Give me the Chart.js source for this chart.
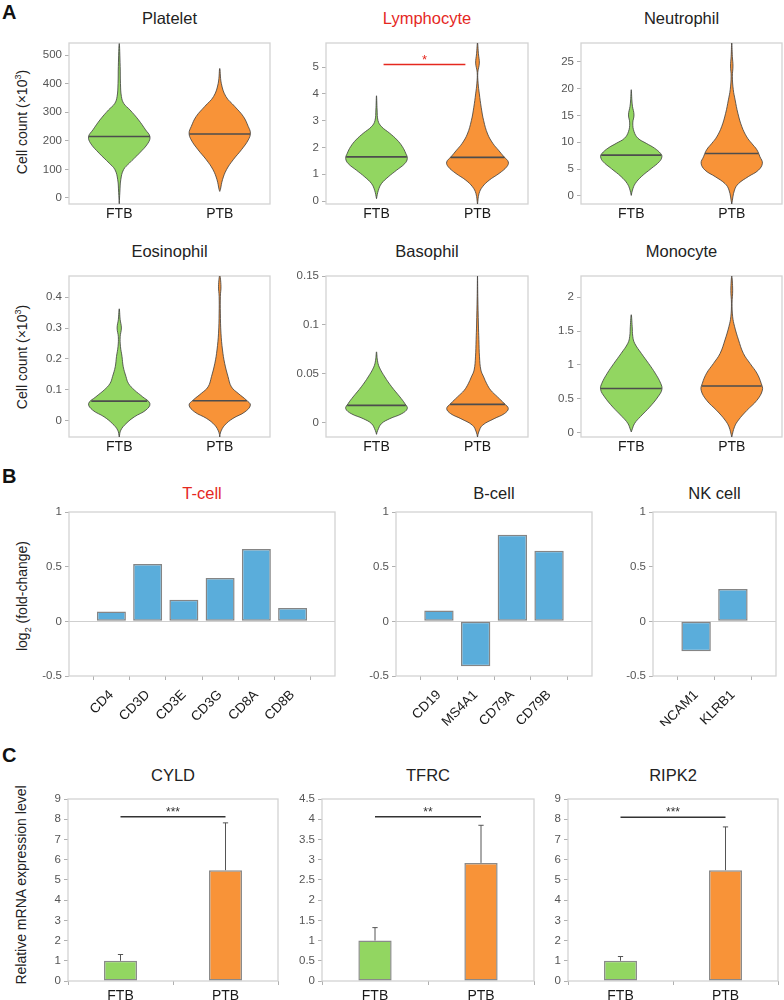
<!DOCTYPE html>
<html><head><meta charset="utf-8">
<script src="https://cdn.jsdelivr.net/npm/chart.js@4.4.0/dist/chart.umd.min.js"></script>
<style>
body{margin:0;background:#fff;width:784px;height:1000px;position:relative;overflow:hidden;font-family:"Liberation Sans",Arial,Helvetica,sans-serif;}
canvas{position:absolute;}
.t{position:absolute;transform:translate(-50%,-50%);white-space:nowrap;font-size:16.5px;color:#222;}
.red{color:#e5281f;}
.L{position:absolute;left:2px;font-weight:bold;font-size:20px;line-height:1;color:#111;}
.yt{position:absolute;transform:translate(-50%,-50%) rotate(-90deg);white-space:nowrap;font-size:14px;color:#222;}
.yt sup,.yt sub{font-size:9px;line-height:0;}
</style></head><body>
<div class="L" style="top:2px">A</div>
<div class="L" style="top:466px">B</div>
<div class="L" style="top:745px">C</div>

<div class="yt" style="left:22px;top:122px">Cell count (×10<sup>3</sup>)</div>
<div class="yt" style="left:22px;top:357px">Cell count (×10<sup>3</sup>)</div>
<div class="yt" style="left:22px;top:596px">log<sub>2</sub> (fold-change)</div>
<div class="yt" style="left:21px;top:885px">Relative mRNA expression level</div>

<script>
// ---------------- DATA ----------------
const groups = ['FTB', 'PTB'];
const violinTitles = ['Platelet', 'Lymphocyte', 'Neutrophil', 'Eosinophil', 'Basophil', 'Monocyte'];

// violin density profiles: [value, relative density]
const plateletFTB = [[-20,0],[20,0.02],[64,0.05],[99,0.14],[122,0.33],[157,0.66],[192,0.94],[215,1],[238,0.86],[273,0.63],[308,0.35],[330,0.15],[355,0.07],[400,0.04],[460,0.03],[540,0]];
const plateletPTB = [[23,0],[29,0.02],[64,0.09],[99,0.22],[134,0.44],[169,0.71],[203,0.93],[227,1],[250,0.93],[285,0.77],[320,0.49],[355,0.2],[401,0.05],[453,0]];
const lymphFTB = [[0.09,0],[0.4,0.06],[0.65,0.16],[0.9,0.38],[1.15,0.65],[1.4,0.92],[1.59,1],[1.78,0.95],[2.03,0.84],[2.28,0.67],[2.53,0.43],[2.78,0.16],[3.0,0.05],[3.4,0.02],[3.93,0]];
const lymphPTB = [[-0.12,0],[0.28,0.05],[0.53,0.16],[0.78,0.38],[1.03,0.7],[1.28,0.95],[1.46,1],[1.65,0.86],[1.9,0.68],[2.15,0.5],[2.5,0.33],[3.0,0.2],[3.5,0.12],[4.0,0.06],[4.4,0.02],[4.8,0.01],[5.15,0.06],[5.5,0.03],[5.9,0]];
const neutroFTB = [[0.1,0],[1.1,0.04],[2.3,0.13],[3.6,0.33],[5.1,0.65],[6.4,0.92],[7.3,1],[7.9,0.96],[8.9,0.76],[9.8,0.49],[10.75,0.22],[12,0.09],[13.6,0.05],[15.1,0.09],[16.7,0.04],[17.9,0.02],[19.8,0]];
const neutroPTB = [[-1.5,0],[1.1,0.09],[2.3,0.22],[3.6,0.54],[4.8,0.87],[6.1,1],[7.3,0.92],[8.6,0.82],[9.8,0.65],[11,0.49],[12.9,0.33],[15.4,0.2],[17.9,0.11],[19.8,0.05],[22.3,0.02],[24.2,0.04],[26,0.02],[28.6,0]];
const eosFTB = [[-0.052,0],[-0.03,0.05],[-0.009,0.22],[0.013,0.49],[0.035,0.87],[0.056,1],[0.078,0.76],[0.1,0.49],[0.121,0.3],[0.143,0.22],[0.175,0.13],[0.208,0.09],[0.24,0.04],[0.272,0.03],[0.3,0.07],[0.327,0.03],[0.362,0]];
const eosPTB = [[-0.052,0],[-0.036,0.03],[-0.014,0.16],[0.008,0.43],[0.029,0.82],[0.051,1],[0.067,0.87],[0.089,0.6],[0.11,0.38],[0.143,0.27],[0.186,0.16],[0.229,0.09],[0.283,0.04],[0.348,0.02],[0.402,0.02],[0.435,0.04],[0.47,0]];
const basoFTB = [[-0.0116,0],[-0.0075,0.04],[-0.0007,0.16],[0.0044,0.43],[0.0095,0.82],[0.0147,1],[0.0198,0.92],[0.0266,0.76],[0.037,0.49],[0.047,0.27],[0.057,0.09],[0.064,0.03],[0.0726,0]];
const basoPTB = [[-0.0143,0],[-0.0092,0.04],[-0.0024,0.16],[0.0044,0.54],[0.0095,0.87],[0.0147,1],[0.0198,0.87],[0.0266,0.65],[0.0334,0.43],[0.04,0.3],[0.047,0.2],[0.054,0.11],[0.0675,0.065],[0.085,0.045],[0.1,0.03],[0.129,0.01],[0.15,0]];
const monoFTB = [[0.015,0],[0.04,0.02],[0.14,0.11],[0.24,0.3],[0.38,0.6],[0.53,0.87],[0.64,1],[0.73,0.96],[0.88,0.78],[1.02,0.57],[1.17,0.33],[1.32,0.11],[1.42,0.05],[1.57,0.03],[1.74,0]];
const monoPTB = [[-0.06,0],[0.09,0.09],[0.19,0.22],[0.33,0.49],[0.48,0.82],[0.63,1],[0.73,0.96],[0.88,0.82],[1.02,0.6],[1.17,0.38],[1.37,0.22],[1.57,0.09],[1.71,0.03],[1.91,0.01],[2.1,0.03],[2.31,0]];

// medians [FTB, PTB]
const plateletMed = [215, 224];
const lymphMed = [1.65, 1.63];
const neutroMed = [7.6, 7.9];
const eosMed = [0.064, 0.065];
const basoMed = [0.018, 0.019];
const monoMed = [0.655, 0.69];

// y ranges and ticks of the violin panels
const plateletRange = [-21, 542];   const plateletTicks = [0, 100, 200, 300, 400, 500];
const lymphRange = [-0.11, 5.9];    const lymphTicks = [0, 1, 2, 3, 4, 5];
const neutroRange = [-1.5, 28.5];   const neutroTicks = [0, 5, 10, 15, 20, 25];
const eosRange = [-0.052, 0.468];   const eosTicks = [0, 0.1, 0.2, 0.3, 0.4];
const basoRange = [-0.0143, 0.15];  const basoTicks = [0, 0.05, 0.1, 0.15];
const monoRange = [-0.06, 2.31];    const monoTicks = [0, 0.5, 1, 1.5, 2];
const lymphSig = [1.14, 2.76, 5.1];  // x from, x to, y

// panel B
const tcellGenes = ['CD4', 'CD3D', 'CD3E', 'CD3G', 'CD8A', 'CD8B'];
const tcellFC = [0.091, 0.524, 0.198, 0.396, 0.662, 0.122];
const bcellGenes = ['CD19', 'MS4A1', 'CD79A', 'CD79B'];
const bcellFC = [0.098, -0.41, 0.793, 0.646];
const nkGenes = ['NCAM1', 'KLRB1'];
const nkFC = [-0.274, 0.296];
const fcTicks = [-0.5, 0, 0.5, 1];

// panel C: mean, SD (upper), significance bar height
const cyldMean = [1.0, 5.48];  const cyldSD = [0.31, 2.34];  const cyldSig = 8.12;
const tfrcMean = [1.0, 2.92];  const tfrcSD = [0.32, 0.93];  const tfrcSig = 4.06;
const ripk2Mean = [1.0, 5.48]; const ripk2SD = [0.21, 2.14]; const ripk2Sig = 8.1;
const cyldTicks = [0,1,2,3,4,5,6,7,8,9];
const tfrcTicks = [0,0.5,1,1.5,2,2.5,3,3.5,4,4.5];
const ripk2Ticks = [0,1,2,3,4,5,6,7,8,9];

// ---------------- STYLE ----------------
const FONT = '"Liberation Sans", Arial, Helvetica, sans-serif';
const GREEN = '#92d661', ORANGE = '#f89338', BLUE = '#5aaddb';
const VW = 0.61; // max half width of a violin, x units
Chart.defaults.font.family = FONT;
Chart.defaults.animation = false;
Chart.defaults.events = [];
Chart.defaults.plugins.legend.display = false;
Chart.defaults.plugins.tooltip.enabled = false;

const framePlugin = {
  id: 'frame',
  beforeDatasetsDraw(chart) {
    const a = chart.chartArea, ctx = chart.ctx;
    ctx.save();
    ctx.strokeStyle = '#d3d3d3'; ctx.lineWidth = 1.3;
    ctx.strokeRect(a.left, a.top, a.right - a.left, a.bottom - a.top);
    ctx.restore();
  }
};
const sigPlugin = {
  id: 'sig',
  afterDatasetsDraw(chart, args, o) {
    if (!o || !o.text) return;
    const ctx = chart.ctx;
    const x = chart.scales.x.getPixelForValue(o.x), y = chart.scales.y.getPixelForValue(o.y);
    ctx.save();
    ctx.fillStyle = o.color; ctx.font = o.size + 'px ' + FONT;
    ctx.textAlign = 'center'; ctx.textBaseline = 'alphabetic';
    ctx.fillText(o.text, x, y - o.dy);
    ctx.restore();
  }
};

function addTitle(text, x, y, red) {
  const d = document.createElement('div');
  d.className = 't' + (red ? ' red' : '');
  d.style.left = x + 'px'; d.style.top = y + 'px';
  d.textContent = text;
  document.body.appendChild(d);
}

function yScale(range, ticks, zeroLine, YW) {
  return {
    type: 'linear', min: range[0], max: range[1],
    afterFit: s => { s.width = YW; },
    afterBuildTicks: s => { s.ticks = ticks.map(v => ({ value: v })); },
    border: { display: false },
    grid: {
      drawOnChartArea: !!zeroLine,
      color: c => (zeroLine && c.tick && c.tick.value === 0) ? '#cfcfcf' : 'rgba(0,0,0,0)',
      tickColor: '#b0b0b0', tickLength: 4, lineWidth: 1
    },
    ticks: { font: { family: FONT, size: 11.5 }, color: '#555', padding: 3, callback: v => String(+(+v).toFixed(4)) }
  };
}
function xScale(range, ticks, labels, xh, o) {
  return {
    type: 'linear', min: range[0], max: range[1], offset: false,
    afterFit: s => { s.height = xh; },
    afterBuildTicks: s => { s.ticks = ticks.map(v => ({ value: v })); },
    border: { display: false },
    grid: { drawOnChartArea: false, drawTicks: o.marks, tickLength: 4, tickColor: '#b0b0b0' },
    ticks: { autoSkip: false, maxRotation: o.rot, minRotation: o.rot, font: { family: FONT, size: o.size }, color: '#1a1a1a', padding: o.pad,
      callback: (v, i) => labels[i] }
  };
}

function makeChart(box, xh, config) {
  const PT = 10, PR = 8, YW = 44;
  const cv = document.createElement('canvas');
  const w = box[1] - box[0] + YW + PR, h = box[3] - box[2] + PT + xh;
  cv.width = w; cv.height = h;
  cv.style.left = (box[0] - YW) + 'px'; cv.style.top = (box[2] - PT) + 'px';
  cv.style.width = w + 'px'; cv.style.height = h + 'px';
  document.body.appendChild(cv);
  config.options.layout = { padding: { top: PT, right: PR, left: 0, bottom: 0 } };
  config.options.responsive = false;
  config.options.devicePixelRatio = 1;
  config.options.scales.y = config.yFn(YW);
  delete config.yFn;
  config.plugins = [framePlugin, sigPlugin];
  return new Chart(cv, config);
}

// ---------- violins ----------
function densityAt(profile, v) {
  for (let i = 1; i < profile.length; i++) {
    const [y0, d0] = profile[i - 1], [y1, d1] = profile[i];
    if (v >= y0 && v <= y1) return d0 + (d1 - d0) * (v - y0) / (y1 - y0);
  }
  return 0;
}
function violinPoints(profile, c) {
  const right = profile.map(([y, d]) => ({ x: c + d * VW, y }));
  const left = profile.slice().reverse().map(([y, d]) => ({ x: c - d * VW, y }));
  return right.concat(left.slice(1));
}
function violinChart(box, title, red, profiles, meds, range, ticks, sig) {
  const centers = [1, 3], colors = [GREEN, ORANGE];
  const ds = [];
  profiles.forEach((p, i) => ds.push({
    data: violinPoints(p, centers[i]), fill: 'shape', backgroundColor: colors[i],
    borderColor: '#3c3c3c', borderWidth: 0.8, pointRadius: 0, tension: 0.4, order: 3
  }));
  profiles.forEach((p, i) => {
    const hw = densityAt(p, meds[i]) * VW;
    ds.push({ data: [{ x: centers[i] - hw, y: meds[i] }, { x: centers[i] + hw, y: meds[i] }],
      borderColor: '#4d4d4d', borderWidth: 1.6, pointRadius: 0, fill: false, order: 1 });
  });
  const sigOpt = {};
  if (sig) {
    ds.push({ data: [{ x: sig[0], y: sig[2] }, { x: sig[1], y: sig[2] }], borderColor: '#e5281f',
      borderWidth: 1.5, pointRadius: 0, fill: false, order: 1 });
    Object.assign(sigOpt, { text: '*', x: (sig[0] + sig[1]) / 2, y: sig[2], dy: 0, size: 13, color: '#e5281f' });
  }
  addTitle(title, (box[0] + box[1]) / 2, box[2] - 25, red);
  makeChart(box, 28, {
    type: 'line',
    data: { datasets: ds },
    yFn: YW => yScale(range, ticks, false, YW),
    options: {
      scales: { x: xScale([0, 4], [1, 3], groups, 28, { marks: false, rot: 0, size: 14, pad: 2 }) },
      plugins: { sig: sigOpt }
    }
  });
}

const row1 = [43, 204], row2 = [276, 437];
const colsA = [[69, 270], [326, 528], [581, 782]];
violinChart([...colsA[0], ...row1], violinTitles[0], false, [plateletFTB, plateletPTB], plateletMed, plateletRange, plateletTicks);
violinChart([...colsA[1], ...row1], violinTitles[1], true, [lymphFTB, lymphPTB], lymphMed, lymphRange, lymphTicks, lymphSig);
violinChart([...colsA[2], ...row1], violinTitles[2], false, [neutroFTB, neutroPTB], neutroMed, neutroRange, neutroTicks);
violinChart([...colsA[0], ...row2], violinTitles[3], false, [eosFTB, eosPTB], eosMed, eosRange, eosTicks);
violinChart([...colsA[1], ...row2], violinTitles[4], false, [basoFTB, basoPTB], basoMed, basoRange, basoTicks);
violinChart([...colsA[2], ...row2], violinTitles[5], false, [monoFTB, monoPTB], monoMed, monoRange, monoTicks);

// ---------- panel B ----------
function fcChart(box, title, red, genes, values) {
  const idx = genes.map((g, i) => i);
  addTitle(title, (box[0] + box[1]) / 2, 493, red);
  makeChart(box, 50, {
    type: 'bar',
    data: { datasets: [{ data: values.map((v, i) => ({ x: idx[i], y: v })), backgroundColor: BLUE,
      borderColor: '#858585', borderWidth: 1.5, barPercentage: 0.8, categoryPercentage: 1, borderSkipped: false }] },
    yFn: YW => yScale([-0.5, 1], fcTicks, true, YW),
    options: {
      scales: { x: xScale([-1.17, genes.length - 1 + 1.17], idx, genes, 50, { marks: true, rot: 45, size: 13.5, pad: 7 }) },
      plugins: { sig: {} }
    }
  });
}
const rowB = [512, 676];
fcChart([69, 335, ...rowB], 'T-cell', true, tcellGenes, tcellFC);
fcChart([396, 592, ...rowB], 'B-cell', false, bcellGenes, bcellFC);
fcChart([653, 776, ...rowB], 'NK cell', false, nkGenes, nkFC);

// ---------- panel C ----------
function qpcrChart(box, title, mean, sd, sig, ticks, stars) {
  const xs = [1, 3];
  const top = ticks[ticks.length - 1];
  const ds = [{
    type: 'bar', data: mean.map((v, i) => ({ x: xs[i], y: v })), backgroundColor: [GREEN, ORANGE],
    borderColor: '#8a8a8a', borderWidth: 1.5, barPercentage: 0.314, categoryPercentage: 1, borderSkipped: false, order: 2
  }];
  mean.forEach((v, i) => {
    ds.push({ type: 'line', data: [{ x: xs[i], y: v }, { x: xs[i], y: v + sd[i] }], borderColor: '#555', borderWidth: 1, pointRadius: 0, fill: false, order: 1 });
    ds.push({ type: 'line', data: [{ x: xs[i] - 0.05, y: v + sd[i] }, { x: xs[i] + 0.05, y: v + sd[i] }], borderColor: '#555', borderWidth: 1, pointRadius: 0, fill: false, order: 1 });
  });
  ds.push({ type: 'line', data: [{ x: xs[0], y: sig }, { x: xs[1], y: sig }], borderColor: '#333', borderWidth: 1.5, pointRadius: 0, fill: false, order: 1 });
  addTitle(title, (box[0] + box[1]) / 2, 775, false);
  makeChart(box, 24, {
    type: 'bar',
    data: { datasets: ds },
    yFn: YW => yScale([0, top], ticks, false, YW),
    options: {
      scales: { x: xScale([0, 4], xs, groups, 24, { marks: true, rot: 0, size: 14, pad: 3 }) },
      plugins: { sig: { text: stars, x: 2, y: sig, dy: 1, size: 12, color: '#333' } }
    }
  });
}
const rowC = [799, 981];
qpcrChart([68, 278, ...rowC], 'CYLD', cyldMean, cyldSD, cyldSig, cyldTicks, '***');
qpcrChart([322, 534, ...rowC], 'TFRC', tfrcMean, tfrcSD, tfrcSig, tfrcTicks, '**');
qpcrChart([568, 778, ...rowC], 'RIPK2', ripk2Mean, ripk2SD, ripk2Sig, ripk2Ticks, '***');
</script>
</body></html>
